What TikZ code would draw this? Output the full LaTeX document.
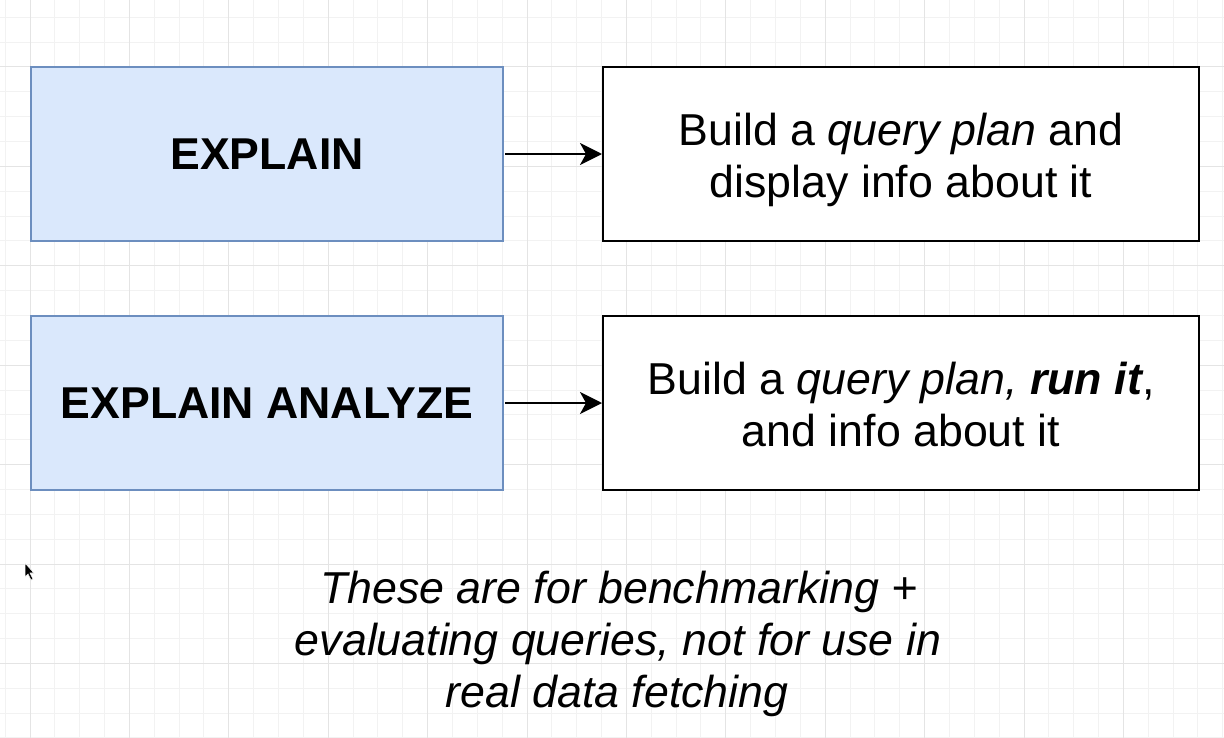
\documentclass[tikz,border=0pt]{standalone}
\usepackage{fontspec}
\setmainfont{Liberation Sans}
\usetikzlibrary{arrows.meta}
\definecolor{bluefill}{HTML}{DAE8FC}
\definecolor{bluedraw}{HTML}{6C8EBF}
\definecolor{gridminor}{HTML}{F2F2F2}
\definecolor{gridmajor}{HTML}{E4E4E4}
\tikzset{
  bluebox/.style={draw=bluedraw, fill=bluefill, line width=2bp, minimum width=472bp, minimum height=174bp, inner sep=0pt, font=\fontsize{44.6bp}{52bp}\selectfont\bfseries},
  whitebox/.style={draw=black, fill=white, line width=2bp, minimum width=596bp, minimum height=174bp, inner sep=0pt},
  txt/.style={anchor=base, inner sep=0pt, font=\fontsize{44.7bp}{52bp}\selectfont},
  notetxt/.style={anchor=base, inner sep=0pt, font=\fontsize{44.7bp}{52bp}\selectfont\itshape},
  arr/.style={line width=2bp, -{Stealth[length=22bp,width=22bp,inset=6bp]}, shorten <=1bp},
  minorline/.style={gridminor, line width=1bp},
  majorline/.style={gridmajor, line width=1bp}
}
\begin{document}
\begin{tikzpicture}[x=1bp,y=-1bp]
\useasboundingbox (0,0) rectangle (1224,738);
\fill[white] (0,0) rectangle (1224,738);
% grid
\foreach \i in {-1,...,48} {\draw[minorline] ({30+24.85*\i},0) -- ({30+24.85*\i},738);}
\foreach \j in {-3,...,28} {\draw[minorline] (0,{67+24.85*\j}) -- (1224,{67+24.85*\j});}
\foreach \i in {0,...,11} {\draw[majorline] ({30+99.4*\i},0) -- ({30+99.4*\i},738);}
\foreach \j in {-1,...,7} {\draw[majorline] (0,{67+99.4*\j}) -- (1224,{67+99.4*\j});}
% boxes
\node[bluebox] (e1) at (267,154) {EXPLAIN};
\node[whitebox] (d1) at (901,154) {};
\node[txt] (d1a) at (901,145) {Build a \textit{query plan} and};
\node[txt] (d1b) at (901,197) {display info about it};
\node[bluebox] (e2) at (267,403) {EXPLAIN ANALYZE};
\node[whitebox] (d2) at (901,403) {};
\node[txt] (d2a) at (901,394) {Build a \textit{query plan, \textbf{run it}},};
\node[txt] (d2b) at (901,446) {and info about it};
% arrows
\draw[arr] (e1.east) -- (d1.west);
\draw[arr] (e2.east) -- (d2.west);
% note
\node[notetxt] (n1) at (619,603) {These are for benchmarking +};
\node[notetxt] (n2) at (618,655) {evaluating queries, not for use in};
\node[notetxt] (n3) at (617,707) {real data fetching};
% cursor
\coordinate (c0) at (25,563);
\fill[black, draw=white, line width=0.6bp] (c0) -- ++(0,14) -- ++(3,-3) -- ++(3,6) -- ++(2,-1) -- ++(-3,-6) -- ++(4,0) -- cycle;
\end{tikzpicture}
\end{document}
